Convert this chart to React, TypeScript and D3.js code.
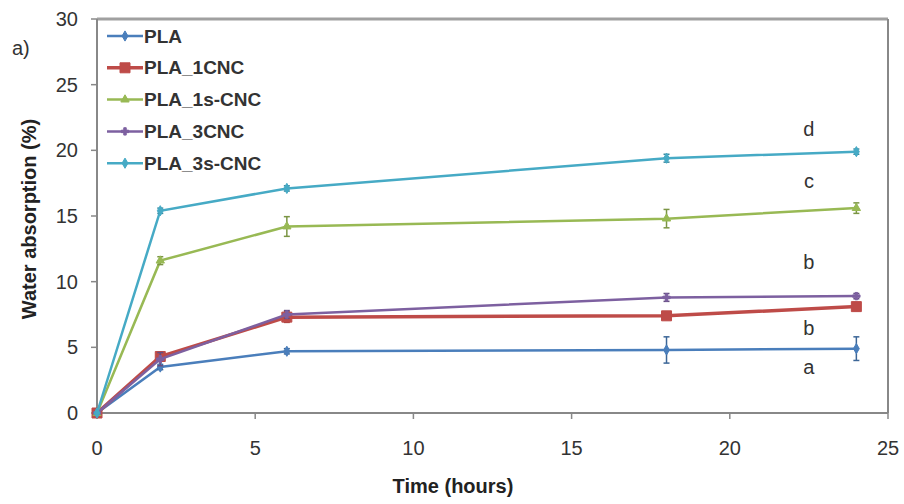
import React from 'react'
import * as d3 from 'd3'

const width = 904
const height = 504
const margin = { top: 19, right: 16, bottom: 91, left: 97 }
const plotW = 888 - margin.left
const plotH = 413 - margin.top

const times = [0, 2, 6, 18, 24]
const seriesNames = ['PLA', 'PLA_1CNC', 'PLA_1s-CNC', 'PLA_3CNC', 'PLA_3s-CNC']
const plaValues = [0, 3.5, 4.7, 4.8, 4.9]
const pla1cncValues = [0, 4.3, 7.3, 7.4, 8.1]
const pla1scncValues = [0, 11.6, 14.2, 14.8, 15.6]
const pla3cncValues = [0, 4.1, 7.5, 8.8, 8.9]
const pla3scncValues = [0, 15.4, 17.1, 19.4, 19.9]
const plaErrors = [0, 0.2, 0.2, 1.0, 0.9]
const pla1cncErrors = [0, 0.2, 0.4, 0.2, 0.3]
const pla1scncErrors = [0, 0.3, 0.75, 0.7, 0.4]
const pla3cncErrors = [0, 0.5, 0.3, 0.3, 0.2]
const pla3scncErrors = [0, 0.2, 0.2, 0.3, 0.2]
const seriesColors = ['#4a7ebb', '#be4b48', '#98b954', '#7d60a0', '#46aac5']
const seriesMarkers = [d3.symbolDiamond, d3.symbolSquare, d3.symbolTriangle, d3.symbolCross, d3.symbolDiamond]
const markerSizes = [30, 100, 30, 30, 30]
const lineWidths = [2.5, 3.5, 2.5, 2.5, 2.5]

const letters = ['d', 'c', 'b', 'b', 'a']
const letterX = [22.5, 22.5, 22.5, 22.5, 22.5]
const letterY = [21.6, 17.7, 11.5, 6.5, 3.5]

const xTicks = [0, 5, 10, 15, 20, 25]
const yTicks = [0, 5, 10, 15, 20, 25, 30]

const allValues = [plaValues, pla1cncValues, pla1scncValues, pla3cncValues, pla3scncValues]
const allErrors = [plaErrors, pla1cncErrors, pla1scncErrors, pla3cncErrors, pla3scncErrors]

const font = 'Liberation Sans, Arial, sans-serif'

export default function App() {
	const x = d3.scaleLinear().domain([0, 25]).range([0, plotW])
	const y = d3.scaleLinear().domain([0, 30]).range([plotH, 0])
	const line = d3
		.line<number>()
		.x((_, i) => x(times[i]))
		.y(d => y(d))

	const series = seriesNames.map((name, k) => ({
		name,
		values: allValues[k],
		errors: allErrors[k],
		color: seriesColors[k],
		marker: d3.symbol(seriesMarkers[k], markerSizes[k])(),
		lw: lineWidths[k],
	}))

	return (
		<svg
			width={width}
			height={height}
			style={{ position: 'absolute', left: 0, top: 0, background: '#fff' }}
		>
			<text x={12} y={55} fontFamily={font} fontSize={20} fill="#333">
				a)
			</text>
			<g transform={`translate(${margin.left},${margin.top})`}>
				{/* frame */}
				<line x1={0} x2={plotW} y1={0} y2={0} stroke="#a0a0a0" strokeWidth={3} />
				<line x1={plotW} x2={plotW} y1={0} y2={plotH} stroke="#888" strokeWidth={2} />
				<line x1={0} x2={plotW} y1={plotH} y2={plotH} stroke="#888" strokeWidth={2} />
				<line x1={0} x2={0} y1={0} y2={plotH} stroke="#888" strokeWidth={2} />
				{yTicks.map(t => (
					<g key={'y' + t} transform={`translate(0,${y(t)})`}>
						<line x1={-6} x2={0} stroke="#888" strokeWidth={1.5} />
						<text
							x={-19}
							dy="0.35em"
							textAnchor="end"
							fontFamily={font}
							fontSize={20}
							fill="#333"
						>
							{t}
						</text>
					</g>
				))}
				{xTicks.map(t => (
					<g key={'x' + t} transform={`translate(${x(t)},${plotH})`}>
						<line y1={0} y2={6} stroke="#888" strokeWidth={1.5} />
						<text
							y={35}
							dy="0.35em"
							textAnchor="middle"
							fontFamily={font}
							fontSize={20}
							fill="#333"
						>
							{t}
						</text>
					</g>
				))}
				{series.map(s => (
					<g key={s.name}>
						<path d={line(s.values) || ''} fill="none" stroke={s.color} strokeWidth={s.lw} />
						{s.values.map((v, i) =>
							s.errors[i] > 0 ? (
								<g key={i} stroke={d3.color(s.color)!.darker(0.6).toString()} strokeWidth={1.5}>
									<line x1={x(times[i])} x2={x(times[i])} y1={y(v - s.errors[i])} y2={y(v + s.errors[i])} />
									<line x1={x(times[i]) - 3} x2={x(times[i]) + 3} y1={y(v - s.errors[i])} y2={y(v - s.errors[i])} />
									<line x1={x(times[i]) - 3} x2={x(times[i]) + 3} y1={y(v + s.errors[i])} y2={y(v + s.errors[i])} />
								</g>
							) : null
						)}
						{s.values.map((v, i) => (
							<path
								key={'m' + i}
								d={s.marker || ''}
								transform={`translate(${x(times[i])},${y(v)})`}
								fill={s.color}
								stroke={s.color}
								strokeWidth={1}
							/>
						))}
					</g>
				))}
				{letters.map((l, i) => (
					<text
						key={'l' + i}
						x={x(letterX[i])}
						y={y(letterY[i])}
						dy="0.35em"
						textAnchor="middle"
						fontFamily={font}
						fontSize={20}
						fill="#333"
					>
						{l}
					</text>
				))}
				{/* legend */}
				{series.map((s, k) => (
					<g key={'lg' + s.name} transform={`translate(10,${17 + k * 31.8})`}>
						<line x1={0} x2={36} stroke={s.color} strokeWidth={s.lw} />
						<path d={s.marker || ''} transform="translate(18,0)" fill={s.color} stroke={s.color} />
						<text
							x={37}
							dy="0.35em"
							fontFamily={font}
							fontSize={19}
							fontWeight="bold"
							fill="#333"
						>
							{s.name}
						</text>
					</g>
				))}
			</g>
			<text
				x={453}
				y={486}
				dy="0.35em"
				textAnchor="middle"
				fontFamily={font}
				fontSize={20}
				fontWeight="bold"
				fill="#222"
			>
				Time (hours)
			</text>
			<text
				transform="translate(29,219) rotate(-90)"
				dy="0.35em"
				textAnchor="middle"
				fontFamily={font}
				fontSize={20}
				fontWeight="bold"
				fill="#222"
			>
				Water absorption (%)
			</text>
		</svg>
	)
}
